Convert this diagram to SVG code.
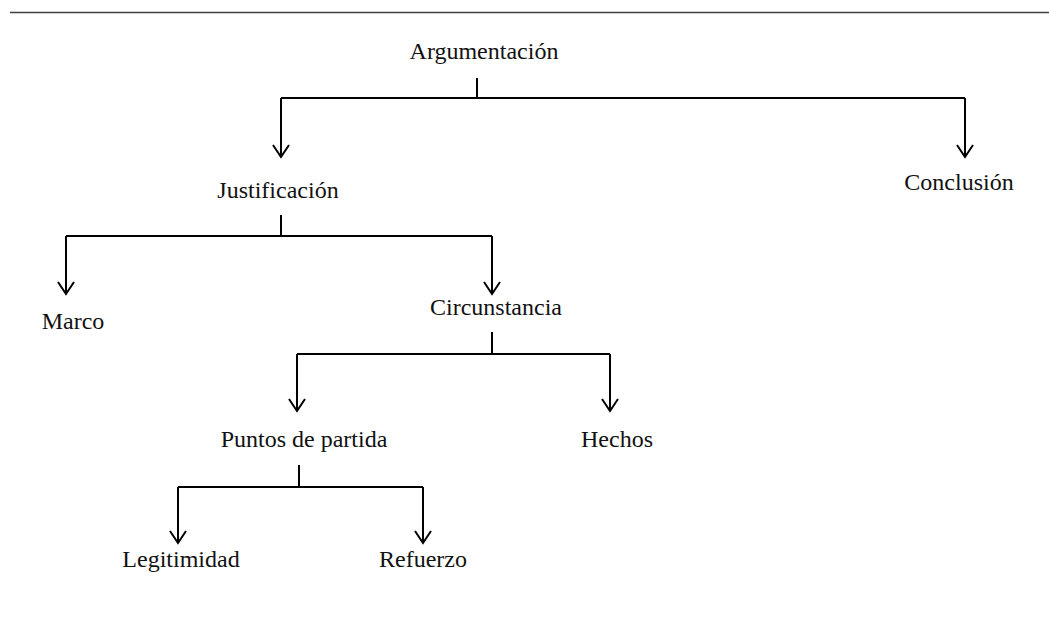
<svg xmlns="http://www.w3.org/2000/svg" width="1049" height="620" viewBox="0 0 1049 620">
<style>
.lbl{font-family:"Liberation Serif","Times New Roman",serif;font-size:24px;fill:#111;text-anchor:middle}
.edge{fill:none;stroke:#000;stroke-width:2}
.arr{marker-end:url(#chev)}
</style>
<defs>
<marker id="chev" viewBox="-14 -10 16 20" refX="0" refY="0" markerWidth="16" markerHeight="20" markerUnits="userSpaceOnUse" orient="auto" overflow="visible">
<path d="M-12,-8 L0,0 L-12,8" fill="none" stroke="#000" stroke-width="2"/>
</marker>
</defs>
<rect width="1049" height="620" fill="#fff"/>
<line x1="10" y1="12.5" x2="1049" y2="12.5" stroke="#404040" stroke-width="1.5"/>
<g id="connectors">
<path class="edge" d="M477,78 V98 M281,98 H965"/>
<path class="edge arr" d="M281,98 V157"/>
<path class="edge arr" d="M965,98 V157"/>
<path class="edge" d="M281,215 V236 M66,236 H492"/>
<path class="edge arr" d="M66,236 V294"/>
<path class="edge arr" d="M492,236 V294"/>
<path class="edge" d="M492,332 V354 M297,354 H610"/>
<path class="edge arr" d="M297,354 V411"/>
<path class="edge arr" d="M610,354 V411"/>
<path class="edge" d="M299,465 V487 M178,487 H423"/>
<path class="edge arr" d="M178,487 V543"/>
<path class="edge arr" d="M423,487 V543"/>
</g>
<g id="n-argumentacion"><text class="lbl" x="484" y="59">Argumentación</text></g>
<g id="n-justificacion"><text class="lbl" x="278" y="198">Justificación</text></g>
<g id="n-conclusion"><text class="lbl" x="959" y="190">Conclusión</text></g>
<g id="n-marco"><text class="lbl" x="73" y="329">Marco</text></g>
<g id="n-circunstancia"><text class="lbl" x="496" y="315">Circunstancia</text></g>
<g id="n-puntos"><text class="lbl" x="304" y="447">Puntos de partida</text></g>
<g id="n-hechos"><text class="lbl" x="617" y="447">Hechos</text></g>
<g id="n-legitimidad"><text class="lbl" x="181" y="567">Legitimidad</text></g>
<g id="n-refuerzo"><text class="lbl" x="423" y="567">Refuerzo</text></g>
</svg>
